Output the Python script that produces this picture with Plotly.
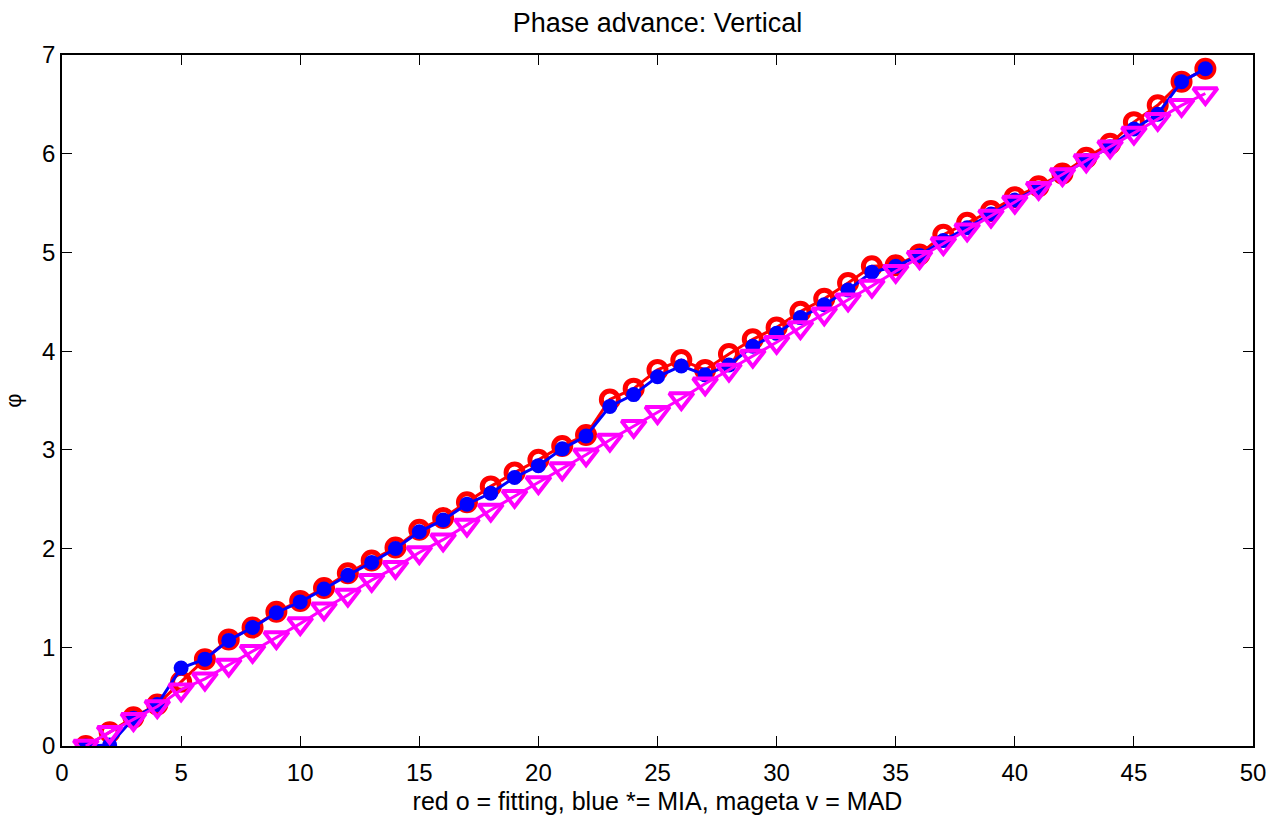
import plotly.graph_objects as go

bpm_index = list(range(1, 49))

phase_fitting = [0.00, 0.14, 0.29, 0.42, 0.65, 0.88, 1.08, 1.20, 1.36, 1.47, 1.60, 1.75,
                 1.88, 2.01, 2.19, 2.31, 2.47, 2.63, 2.77, 2.90, 3.04, 3.15, 3.51, 3.62,
                 3.81, 3.91, 3.81, 3.97, 4.12, 4.24, 4.40, 4.53, 4.69, 4.86, 4.87, 4.98,
                 5.18, 5.30, 5.42, 5.56, 5.67, 5.80, 5.96, 6.10, 6.32, 6.49, 6.73, 6.86]

phase_mia = [0.00, 0.01, 0.28, 0.42, 0.79, 0.88, 1.07, 1.20, 1.35, 1.46, 1.59, 1.73,
             1.86, 2.00, 2.17, 2.29, 2.45, 2.56, 2.72, 2.84, 3.01, 3.14, 3.44, 3.56,
             3.74, 3.85, 3.76, 3.86, 4.05, 4.18, 4.34, 4.47, 4.62, 4.80, 4.86, 4.97,
             5.12, 5.25, 5.39, 5.53, 5.65, 5.79, 5.93, 6.07, 6.25, 6.40, 6.73, 6.86]

phase_mad = [0.00, 0.14, 0.27, 0.40, 0.57, 0.68, 0.82, 0.96, 1.10, 1.24, 1.39, 1.53,
             1.68, 1.81, 1.96, 2.09, 2.24, 2.39, 2.53, 2.67, 2.81, 2.95, 3.10, 3.24,
             3.38, 3.52, 3.67, 3.81, 3.95, 4.09, 4.24, 4.38, 4.52, 4.66, 4.81, 4.95,
             5.09, 5.23, 5.37, 5.51, 5.65, 5.79, 5.93, 6.07, 6.21, 6.35, 6.49, 6.61]

x_ticks = [0, 5, 10, 15, 20, 25, 30, 35, 40, 45, 50]
y_ticks = [0, 1, 2, 3, 4, 5, 6, 7]

FONT = "Liberation Sans, Arial, Helvetica, sans-serif"

fig = go.Figure()
fig.add_trace(go.Scatter(
    x=bpm_index, y=phase_fitting, mode="lines+markers", name="fitting",
    line=dict(color="#ff0000", width=3),
    marker=dict(symbol="circle-open", size=17, color="#ff0000", line=dict(width=5, color="#ff0000")),
))
fig.add_trace(go.Scatter(
    x=bpm_index, y=phase_mia, mode="lines+markers", name="MIA",
    line=dict(color="#0000ff", width=3),
    marker=dict(symbol="circle", size=15, color="#0000ff"),
))
fig.add_trace(go.Scatter(
    x=bpm_index, y=phase_mad, mode="lines+markers", name="MAD",
    line=dict(color="#ff00ff", width=3),
    marker=dict(symbol="triangle-down-open", size=21, color="#ff00ff", line=dict(width=4, color="#ff00ff")),
))

axis_common = dict(
    showgrid=False, zeroline=False, showline=True, linecolor="black", linewidth=1.5,
    mirror="ticks", ticks="inside", ticklen=10, tickwidth=1.2, tickcolor="black",
    tickfont=dict(family=FONT, size=24, color="black"), automargin=False,
)

fig.update_layout(
    width=1285, height=820,
    paper_bgcolor="white", plot_bgcolor="white",
    margin=dict(l=62, r=32, t=55, b=74, autoexpand=False),
    showlegend=False,
    title=dict(text="Phase advance: Vertical", xref="paper", x=0.5, xanchor="center",
               y=0.973, yanchor="middle",
               font=dict(family=FONT, size=27, color="black"), automargin=False),
    xaxis=dict(range=[0, 50], tickvals=x_ticks, ticktext=[str(v) for v in x_ticks],
               ticklabelstandoff=4,
               title=dict(text="red o = fitting, blue *= MIA, mageta v = MAD", standoff=8,
                          font=dict(family=FONT, size=25, color="black")),
               **axis_common),
    yaxis=dict(range=[0, 7], tickvals=y_ticks, ticktext=[str(v) for v in y_ticks],
               title=dict(text="φ", standoff=14, font=dict(family=FONT, size=22, color="black")),
               **axis_common),
)

fig.write_html("out.html", config={"displayModeBar": False},
               post_script="document.body.style.margin='0';document.body.style.overflow='hidden';")
